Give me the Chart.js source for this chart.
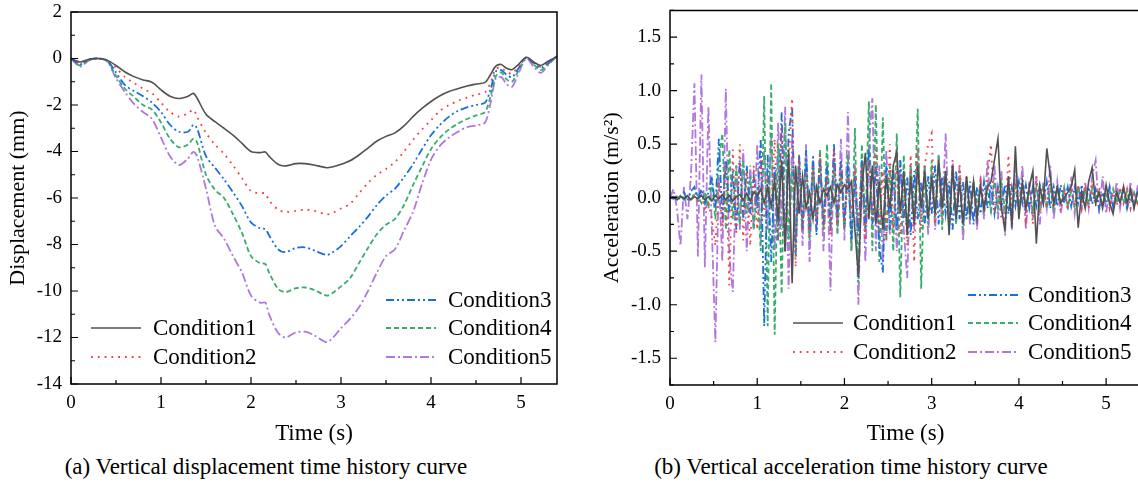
<!DOCTYPE html>
<html lang="en">
<head>
  <meta charset="UTF-8" />
  <title>Vertical displacement and acceleration time history</title>
  <script src="https://cdn.jsdelivr.net/npm/chart.js"></script>
  <style>
    html, body {
      margin: 0;
      padding: 0;
      background: #fff;
      width: 1138px;
      height: 490px;
      overflow: hidden;
      font-family: "Liberation Serif", serif;
    }
    .panel {
      position: absolute;
      top: -10px;
      height: 460px;
    }
    #leftBox { left: 0; width: 570px; }
    #rightBox { left: 570px; width: 576px; }
    .caption {
      position: absolute;
      top: 454px;
      font-size: 23px;
      color: #000;
      white-space: nowrap;
      transform: translateX(-50%);
    }
  </style>
</head>
<body>
  <div class="panel" id="leftBox"><canvas id="dispChart"></canvas></div>
  <div class="panel" id="rightBox"><canvas id="accChart"></canvas></div>
  <div class="caption" style="left: 266px;">(a) Vertical displacement time history curve</div>
  <div class="caption" style="left: 851px;">(b) Vertical acceleration time history curve</div>

  <script>
    const conditions = ["Condition1", "Condition2", "Condition3", "Condition4", "Condition5"];
    const colors = ["#515151", "#F14040", "#1A6FDF", "#37AD6B", "#B177DE"];
    const dashes = [[], [1.8, 5], [8, 3, 2, 3, 2, 3], [5, 3], [9, 3, 2, 3]];

    const timeTicks = [0, 1, 2, 3, 4, 5];
    const dispTicks = [-14, -12, -10, -8, -6, -4, -2, 0, 2];
    const accTicks = [-1.5, -1.0, -0.5, 0.0, 0.5, 1.0, 1.5];

    // displacement (mm)
    const dispT = [0, 0.1, 0.2, 0.3, 0.4, 0.5, 0.6, 0.7, 0.8, 0.9,
      1.0, 1.1, 1.2, 1.3, 1.36, 1.4, 1.5, 1.6, 1.7, 1.8,
      1.9, 2.0, 2.1, 2.16, 2.2, 2.3, 2.38, 2.5, 2.6, 2.7,
      2.84, 2.9, 3.0, 3.1, 3.2, 3.3, 3.4, 3.5, 3.6, 3.7,
      3.8, 3.9, 4.0, 4.1, 4.2, 4.3, 4.4, 4.5, 4.6, 4.66,
      4.72, 4.78, 4.84, 4.9, 4.96, 5.06, 5.14, 5.22, 5.3, 5.4];
    const disp1 = [0, -0.15, -0.03, 0, -0.07, -0.3, -0.58, -0.78, -0.92, -1.02,
      -1.35, -1.62, -1.72, -1.62, -1.5, -1.7, -2.4, -2.72, -3.0, -3.3,
      -3.65, -4.0, -4.05, -4.02, -4.2, -4.55, -4.62, -4.52, -4.52, -4.58,
      -4.7, -4.67, -4.55, -4.4, -4.15, -3.85, -3.55, -3.35, -3.2, -2.9,
      -2.5, -2.15, -1.85, -1.6, -1.42, -1.3, -1.18, -1.1, -1.03, -0.7,
      -0.33, -0.26, -0.42, -0.48, -0.3, 0.05, -0.15, -0.3, -0.12, 0.08];
    const disp2 = [0, -0.2, -0.04, 0, -0.08, -0.4, -0.8, -1.05, -1.3, -1.5,
      -1.9, -2.3, -2.5, -2.35, -2.2, -2.5, -3.2, -3.7, -4.1, -4.6,
      -5.15, -5.7, -5.8, -5.8, -6.1, -6.5, -6.6, -6.55, -6.5, -6.55,
      -6.7, -6.65, -6.45, -6.25, -5.8, -5.35, -5.0, -4.75, -4.45, -4.0,
      -3.5, -3.05, -2.65, -2.25, -2.0, -1.82, -1.68, -1.55, -1.45, -1.05,
      -0.45, -0.4, -0.58, -0.65, -0.4, 0.05, -0.2, -0.35, -0.15, 0.08];
    const disp3 = [0, -0.25, -0.05, 0, -0.08, -0.6, -1.15, -1.4, -1.62, -1.9,
      -2.3, -2.85, -3.15, -3.15, -2.85, -3.0, -4.2, -4.7, -5.2, -5.75,
      -6.35, -7.05, -7.3, -7.34, -7.6, -8.2, -8.33, -8.15, -8.12, -8.25,
      -8.45, -8.35, -8.07, -7.65, -7.25, -6.8, -6.3, -5.9, -5.6, -5.1,
      -4.55, -3.9, -3.3, -2.85, -2.5, -2.25, -2.1, -2.0, -1.9, -1.35,
      -0.56, -0.5, -0.7, -0.8, -0.5, 0.05, -0.2, -0.4, -0.2, 0.1];
    const disp4 = [0, -0.3, -0.06, 0, -0.1, -0.75, -1.3, -1.65, -2.0, -2.2,
      -2.75, -3.45, -3.82, -3.7, -3.45, -3.6, -5.0, -5.65, -6.0, -6.7,
      -7.5, -8.5, -8.8, -8.84, -9.2, -9.9, -10.05, -9.88, -9.85, -9.95,
      -10.2, -10.1, -9.8, -9.45, -8.8, -8.15, -7.55, -7.15, -6.9, -6.3,
      -5.45, -4.65, -3.9, -3.4, -3.05, -2.8, -2.6, -2.45, -2.3, -1.65,
      -0.77, -0.6, -0.9, -1.0, -0.6, 0.05, -0.25, -0.5, -0.25, 0.1];
    const disp5 = [0, -0.35, -0.08, 0, -0.12, -0.85, -1.45, -1.95, -2.3, -2.6,
      -3.4, -4.2, -4.58, -4.3, -4.02, -4.2, -5.6, -7.2, -7.75, -8.5,
      -9.2, -10.2, -10.5, -10.5, -11.0, -11.8, -12.0, -11.78, -11.75, -11.9,
      -12.2, -12.05, -11.6, -11.2, -10.7, -10.0, -9.2, -8.5, -8.2, -7.4,
      -6.6, -5.4, -4.35, -3.75, -3.4, -3.15, -2.95, -2.88, -2.75, -1.95,
      -0.85, -0.8, -1.1, -1.22, -0.75, 0.0, -0.35, -0.62, -0.3, 0.12];

    // acceleration (m/s2)
    const accT = [0, 0.04, 0.08, 0.12, 0.16, 0.2, 0.24, 0.28, 0.32, 0.36,
      0.4, 0.44, 0.48, 0.52, 0.56, 0.6, 0.64, 0.68, 0.72, 0.76,
      0.8, 0.84, 0.88, 0.92, 0.96, 1.0, 1.04, 1.08, 1.12, 1.16,
      1.2, 1.24, 1.28, 1.32, 1.36, 1.4, 1.44, 1.48, 1.52, 1.56,
      1.6, 1.64, 1.68, 1.72, 1.76, 1.8, 1.84, 1.88, 1.92, 1.96,
      2.0, 2.04, 2.08, 2.12, 2.16, 2.2, 2.24, 2.28, 2.32, 2.36,
      2.4, 2.44, 2.48, 2.52, 2.56, 2.6, 2.64, 2.68, 2.72, 2.76,
      2.8, 2.84, 2.88, 2.92, 2.96, 3.0, 3.04, 3.08, 3.12, 3.16,
      3.2, 3.24, 3.28, 3.32, 3.36, 3.4, 3.44, 3.48, 3.52, 3.56,
      3.6, 3.64, 3.68, 3.72, 3.76, 3.8, 3.84, 3.88, 3.92, 3.96,
      4.0, 4.04, 4.08, 4.12, 4.16, 4.2, 4.24, 4.28, 4.32, 4.36,
      4.4, 4.44, 4.48, 4.52, 4.56, 4.6, 4.64, 4.68, 4.72, 4.76,
      4.8, 4.84, 4.88, 4.92, 4.96, 5.0, 5.04, 5.08, 5.12, 5.16,
      5.2, 5.24, 5.28, 5.32, 5.36, 5.4];
    const acc1 = [0, 0.01, -0.02, 0.01, -0.01, 0.02, -0.02, 0.01, -0.01, 0.02,
      -0.02, 0.01, -0.03, 0.02, -0.01, 0.03, -0.02, 0.02, -0.03, 0.01,
      0.03, -0.02, 0.04, -0.03, 0.05, 0.02, 0.08, -0.05, 0.1, -0.08,
      0.15, -0.2, 0.35, -0.5, 0.45, -0.8, 0.3, -0.15, 0.2, -0.1,
      0.05, -0.2, 0.1, -0.05, 0.08, 0.02, 0.1, -0.05, 0.12, 0.05,
      0.12, 0.08, 0.15, -0.3, -0.74, 0.1, 0.42, -0.2, 0.3, -0.25,
      0.15, -0.3, 0.2, -0.1, 0.3, 0.43, -0.15, 0.25, -0.35, 0.2,
      -0.25, 0.3, -0.1, 0.25, -0.2, 0.2, -0.15, 0.35, -0.1, 0.25,
      -0.35, 0.3, -0.2, 0.15, -0.25, 0.2, -0.15, 0.15, -0.2, 0.1,
      -0.1, 0.1, 0.15, 0.35, 0.55, -0.1, -0.3, 0.2, -0.28, 0.48,
      -0.2, 0.15, -0.1, 0.1, 0.25, -0.43, 0.1, -0.05, 0.46, 0.2,
      -0.05, 0.1, -0.05, 0.0, 0.05, 0.1, 0.26, -0.28, 0.05, -0.1,
      0.15, 0.28, -0.05, 0.05, -0.1, 0.12, -0.05, -0.15, 0.05, -0.05,
      0.1, -0.05, 0.08, -0.1, 0.05, 0.03];
    const acc2 = [0, 0, 0.01, -0.01, 0, 0.01, -0.02, 0.02, -0.03, 0.02,
      -0.1, -0.05, -0.2, -0.45, 0.15, -0.3, 0.3, -0.82, 0.45, -0.35,
      0.5, -0.4, 0.25, -0.45, 0.3, -0.3, 0.35, -0.2, 0.15, -0.1,
      0.55, -0.4, 0.65, -0.5, 0.3, 0.93, -0.65, 0.4, -0.3, 0.25,
      -0.35, 0.3, -0.25, 0.4, -0.3, 0.2, -0.35, 0.45, -0.25, 0.3,
      -0.3, 0.2, -0.15, 0.3, -0.25, 0.3, -0.4, 0.35, -0.2, 0.45,
      -0.3, 0.25, -0.4, 0.5, -0.3, 0.3, -0.35, 0.2, -0.45, 0.4,
      -0.6, 0.45, -0.3, 0.3, 0.5, 0.6, -0.25, 0.3, -0.2, 0.25,
      -0.3, 0.35, -0.15, 0.3, -0.2, 0.2, -0.15, 0.1, -0.2, 0.15,
      -0.1, 0.2, 0.5, -0.15, 0.1, -0.2, -0.25, 0.4, -0.1, 0.15,
      -0.15, 0.1, -0.2, 0.15, -0.25, 0.2, -0.15, 0.1, -0.1, 0.15,
      -0.1, 0.1, -0.12, 0.08, -0.1, 0.1, -0.08, 0.12, -0.1, 0.08,
      -0.1, 0.1, -0.08, 0.1, -0.05, 0.08, -0.1, 0.05, -0.08, 0.1,
      -0.05, 0.08, -0.1, 0.05, -0.05, 0.05];
    const acc3 = [0, -0.01, 0.02, -0.02, 0.05, -0.03, 0.06, 0.1, -0.02, 0.08,
      -0.05, 0.05, 0.2, -0.1, 0.55, -0.2, 0.35, -0.15, 0.25, -0.3,
      0.35, -0.2, 0.3, -0.15, 0.2, -0.1, 0.55, -1.2, 0.4, -0.6,
      0.3, -0.4, 0.8, -0.5, 0.6, 0.85, -0.55, 0.4, -0.3, 0.45,
      -0.3, 0.4, -0.35, 0.35, -0.25, 0.3, -0.3, 0.5, -0.2, 0.35,
      -0.25, 0.3, -0.4, 0.2, -0.35, 0.35, -0.3, 0.45, -0.25, 0.3,
      -0.45, -0.7, 0.3, -0.3, 0.25, -0.3, 0.35, -0.2, 0.2, -0.35,
      0.25, -0.2, 0.15, -0.25, 0.2, -0.15, 0.3, -0.25, 0.2, -0.15,
      0.15, -0.3, 0.25, -0.2, 0.15, -0.2, 0.15, -0.25, 0.1, -0.15,
      0.15, -0.1, 0.12, -0.15, 0.1, -0.1, 0.12, -0.15, 0.1, -0.08,
      0.15, -0.05, 0.12, -0.1, 0.1, -0.08, 0.12, -0.05, 0.15, -0.1,
      0.1, -0.08, 0.12, -0.05, 0.1, -0.08, 0.1, -0.05, 0.12, -0.08,
      0.1, -0.06, 0.08, -0.1, 0.05, -0.05, 0.1, -0.08, 0.06, -0.05,
      0.08, -0.1, 0.05, -0.08, 0.06, 0.05];
    const acc4 = [0, 0.01, -0.01, 0.02, -0.02, 0.02, -0.03, 0.05, 0.02, -0.05,
      0.05, -0.1, 0.15, -0.2, 0.35, 0.6, -0.3, 0.45, -0.2, 0.3,
      -0.25, 0.35, -0.15, 0.2, -0.3, 0.1, -0.5, 0.95, -1.2, 1.07,
      -1.28, 0.5, -0.9, 0.7, -0.4, 0.3, -0.5, 0.4, -0.3, 0.35,
      -0.4, 0.3, -0.2, 0.45, -0.3, 0.5, -0.25, 0.3, -0.35, 0.25,
      -0.3, 0.4, -0.5, 0.65, -0.8, 0.5, -0.3, 0.9, -0.5, 0.87,
      -0.6, 0.75, -0.4, 0.3, -0.5, 0.6, -0.93, 0.4, -0.35, 0.3,
      -0.2, 0.83, -0.85, 0.3, -0.25, 0.35, -0.2, 0.4, -0.3, 0.25,
      -0.2, 0.3, -0.25, 0.2, -0.3, 0.15, -0.2, 0.15, -0.1, 0.12,
      -0.15, 0.1, -0.12, 0.15, -0.1, 0.12, -0.1, 0.08, -0.12, 0.1,
      -0.08, 0.12, -0.1, 0.08, -0.12, 0.1, -0.08, 0.12, -0.1, 0.08,
      -0.1, 0.08, -0.06, 0.1, -0.08, 0.06, -0.08, 0.1, -0.05, 0.08,
      -0.06, 0.08, -0.05, 0.06, -0.08, 0.05, -0.06, 0.08, -0.05, 0.06,
      -0.05, 0.06, -0.04, 0.05, -0.06, 0.04];
    const acc5 = [0, 0.08, -0.1, -0.45, 0.1, -0.2, 0.2, 1.07, -0.55, 1.15,
      -0.65, 0.85, -0.3, -1.35, 0.2, -0.6, 1.02, -0.55, -0.88, 0.3,
      -0.3, 0.45, -0.5, 0.3, -0.3, 0.5, -0.4, 0.45, -0.3, 0.6,
      -0.5, 0.7, -0.3, 0.85, -0.85, 0.6, -0.4, 0.3, -0.45, 0.5,
      -0.6, 0.35, -0.3, 0.4, -0.5, 0.3, -0.87, 0.45, -0.3, 0.55,
      -0.4, 0.8, -0.5, 0.3, -1.0, 0.35, -0.6, 0.5, 0.93, -0.5,
      0.3, -0.6, 0.45, -0.35, 0.3, -0.5, 0.35, -0.3, -0.75, 0.3,
      -0.3, 0.45, -0.2, 0.3, -0.35, 0.25, -0.3, 0.4, -0.2, 0.6,
      -0.3, 0.35, -0.2, 0.3, -0.4, 0.2, -0.25, 0.15, -0.3, 0.2,
      -0.2, 0.35, -0.15, 0.3, -0.2, 0.25, -0.35, 0.2, -0.3, 0.3,
      -0.15, 0.3, -0.3, 0.15, -0.2, 0.2, -0.25, 0.15, -0.1, 0.3,
      -0.2, 0.15, -0.15, 0.1, -0.12, 0.2, -0.15, 0.12, -0.1, 0.15,
      -0.1, 0.2, 0.35, -0.15, 0.2, -0.15, 0.1, -0.12, 0.15, -0.1,
      0.1, -0.12, 0.15, -0.08, 0.1, 0.05];

    const FONT = "Liberation Serif";

    function series(t, values) {
      return values.map((v, i) => ({ x: t[i], y: v }));
    }

    function makeDatasets(t, lists, tension) {
      return lists.map((vals, i) => ({
        label: conditions[i],
        data: series(t, vals),
        borderColor: colors[i],
        borderDash: dashes[i],
        borderWidth: i === 0 ? 1.6 : 1.8,
        pointRadius: 0,
        tension: tension,
        fill: false
      }));
    }

    // frame box + inward major/minor ticks
    const framePlugin = {
      id: "frame",
      afterDatasetsDraw(chart, args, opts) {
        const { ctx, chartArea: a, scales } = chart;
        const mid = (arr) => {
          const out = [];
          const step = arr[1] - arr[0];
          for (let i = -1; i < arr.length; i++) {
            const base = i < 0 ? arr[0] - step : arr[i];
            out.push(base + step / 2);
          }
          return out;
        };
        ctx.save();
        ctx.strokeStyle = "#000";
        ctx.lineWidth = 1.5;
        ctx.beginPath();
        ctx.rect(a.left, a.top, a.right - a.left, a.bottom - a.top);
        ctx.stroke();
        ctx.lineWidth = 1.2;
        ctx.beginPath();
        const xs = scales.x, ys = scales.y;
        const inX = (v) => v >= xs.min && v <= xs.max;
        const inY = (v) => v >= ys.min && v <= ys.max;
        opts.xTicks.forEach(v => { const p = xs.getPixelForValue(v); ctx.moveTo(p, a.bottom); ctx.lineTo(p, a.bottom - 7); });
        mid(opts.xTicks).filter(inX).forEach(v => { const p = xs.getPixelForValue(v); ctx.moveTo(p, a.bottom); ctx.lineTo(p, a.bottom - 4); });
        opts.yTicks.forEach(v => { const p = ys.getPixelForValue(v); ctx.moveTo(a.left, p); ctx.lineTo(a.left + 7, p); });
        mid(opts.yTicks).filter(inY).forEach(v => { const p = ys.getPixelForValue(v); ctx.moveTo(a.left, p); ctx.lineTo(a.left + 4, p); });
        ctx.stroke();
        ctx.restore();
      }
    };

    // legend drawn inside the plot like the original
    const legendPlugin = {
      id: "innerLegend",
      afterDraw(chart, args, opts) {
        const ctx = chart.ctx;
        ctx.save();
        ctx.font = '23px "' + FONT + '", serif';
        ctx.textBaseline = "middle";
        ctx.fillStyle = "#000";
        opts.items.forEach((it) => {
          const ds = chart.data.datasets[it.i];
          ctx.strokeStyle = ds.borderColor;
          ctx.lineWidth = ds.borderWidth;
          ctx.setLineDash(ds.borderDash);
          ctx.beginPath();
          ctx.moveTo(it.x, it.y);
          ctx.lineTo(it.x + opts.len, it.y);
          ctx.stroke();
          ctx.setLineDash([]);
          ctx.fillText(ds.label, it.x + opts.len + opts.gap, it.y + 1);
        });
        ctx.restore();
      }
    };

    function axisOptions(opt) {
      return {
        x: {
          type: "linear",
          min: 0,
          max: 5.4,
          grid: { display: false, drawTicks: false },
          border: { display: false },
          afterBuildTicks: (s) => { s.ticks = timeTicks.map(v => ({ value: v })); },
          afterFit: (s) => { s.height = opt.xHeight; },
          ticks: {
            color: "#000",
            font: { family: FONT, size: 19 },
            padding: 8,
            maxRotation: 0,
            callback: (v) => String(v)
          },
          title: {
            display: true,
            text: "Time (s)",
            color: "#000",
            font: { family: FONT, size: 23 },
            padding: { top: 0, bottom: 2 }
          }
        },
        y: {
          min: opt.yMin,
          max: opt.yMax,
          grid: { display: false, drawTicks: false },
          border: { display: false },
          afterBuildTicks: (s) => { s.ticks = opt.yTicks.map(v => ({ value: v })); },
          afterFit: (s) => { s.width = opt.yWidth; },
          ticks: {
            color: "#000",
            font: { family: FONT, size: 19 },
            padding: 9,
            callback: opt.yFormat
          },
          title: {
            display: true,
            text: opt.yTitle,
            color: "#000",
            font: { family: FONT, size: 22 },
            padding: { top: opt.yTitlePad, bottom: 0 }
          }
        }
      };
    }

    function draw() {
      Chart.defaults.font.family = FONT;

      new Chart(document.getElementById("dispChart"), {
        type: "line",
        data: { datasets: makeDatasets(dispT, [disp1, disp2, disp3, disp4, disp5], 0.3) },
        options: {
          responsive: true,
          maintainAspectRatio: false,
          animation: false,
          events: [],
          layout: { padding: { top: 22, right: 13, bottom: 0, left: 0 } },
          plugins: {
            legend: { display: false },
            tooltip: { enabled: false },
            frame: { xTicks: timeTicks, yTicks: dispTicks },
            innerLegend: {
              len: 50, gap: 12,
              items: [
                { i: 0, x: 91, y: 338 }, { i: 1, x: 91, y: 367 },
                { i: 2, x: 386, y: 310 }, { i: 3, x: 386, y: 338 }, { i: 4, x: 386, y: 367 }
              ]
            }
          },
          scales: axisOptions({
            xHeight: 66, yWidth: 71, yMin: -14, yMax: 2, yTicks: dispTicks,
            yTitle: "Displacement (mm)", yTitlePad: 5,
            yFormat: (v) => String(v)
          })
        },
        plugins: [framePlugin, legendPlugin]
      });

      new Chart(document.getElementById("accChart"), {
        type: "line",
        data: { datasets: makeDatasets(accT, [acc1, acc2, acc3, acc4, acc5], 0) },
        options: {
          responsive: true,
          maintainAspectRatio: false,
          animation: false,
          events: [],
          layout: { padding: { top: 16, right: 5, bottom: 0, left: 0 } },
          plugins: {
            legend: { display: false },
            tooltip: { enabled: false },
            frame: { xTicks: timeTicks, yTicks: accTicks },
            innerLegend: {
              len: 50, gap: 10,
              items: [
                { i: 0, x: 223, y: 333 }, { i: 1, x: 223, y: 362 },
                { i: 2, x: 398, y: 305 }, { i: 3, x: 398, y: 333 }, { i: 4, x: 398, y: 362 }
              ]
            }
          },
          scales: axisOptions({
            xHeight: 65, yWidth: 100, yMin: -1.75, yMax: 1.75, yTicks: accTicks,
            yTitle: "Acceleration (m/s²)", yTitlePad: 29,
            yFormat: (v) => v.toFixed(1)
          })
        },
        plugins: [framePlugin, legendPlugin]
      });
    }

    // make sure the serif face is ready before the canvases paint text
    if (document.fonts && document.fonts.load) {
      Promise.all([
        document.fonts.load('19px "Liberation Serif"'),
        document.fonts.load('23px "Liberation Serif"')
      ]).then(draw, draw);
    } else {
      draw();
    }
  </script>
</body>
</html>
